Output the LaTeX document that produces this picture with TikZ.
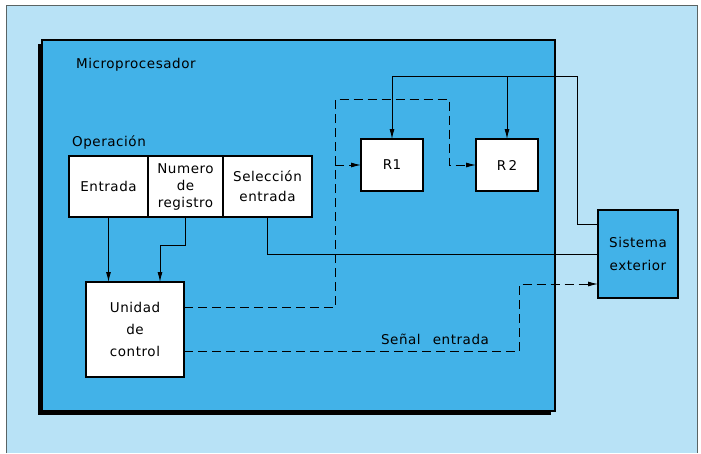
\documentclass[tikz,border=0pt]{standalone}
\usepackage{fontspec}
\setmainfont{DejaVu Sans}[LetterSpace=4]
\usetikzlibrary{arrows.meta, positioning, calc, shadows}
\definecolor{cPanel}{RGB}{184,226,246}
\definecolor{cChip}{RGB}{66,178,232}
\definecolor{cFrame}{RGB}{90,100,100}
\tikzset{
    chip/.style   ={rectangle, draw=black, line width=1.2pt, fill=cChip, inner sep=0pt},
    cell/.style   ={rectangle, draw=black, line width=1.4pt, fill=white, inner sep=0pt, outer sep=0pt, align=center, text centered},
    extbox/.style ={cell, fill=cChip},
    wire/.style   ={line width=0.9pt},
    sigwire/.style={line width=0.9pt, dash pattern=on 9pt off 5pt},
    tip/.style    ={-{Latex[length=10pt,width=5pt]}},
}
\begin{document}
\begin{tikzpicture}[x=1pt, y=-1pt, every node/.style={font=\fontsize{13.5}{17}\selectfont}]
    \useasboundingbox (0,0) rectangle (701,453);
    \fill[white] (0,0) rectangle (701,453);
    \fill[cPanel] (6,5) rectangle (697,453);
    \draw[cFrame, line width=0.6pt] (6,453) -- (6,5) -- (697,5) -- (697,453);
    % microprocesador
    \node[chip, minimum width=513pt, minimum height=371pt,
        drop shadow={shadow xshift=-4pt, shadow yshift=-4pt, fill=black, opacity=1}] (micro) at (298.5,225.5) {};
    \node[anchor=west, inner sep=0pt] (lblMicro) at (76,65) {Microprocesador};
    \node[anchor=west, inner sep=0pt] (lblOp) at (72,143) {Operación};
    % campos de la operacion
    \node[cell, minimum width=79pt, minimum height=61pt] (ent) at (108.5,186.5) {Entrada};
    \node[cell, minimum width=75pt, minimum height=61pt, right=0pt of ent] (num) {Numero\\de\\registro};
    \node[cell, minimum width=89pt, minimum height=61pt, right=0pt of num,
        font=\fontsize{13.5}{20}\selectfont] (sel) {Selección\\entrada};
    \node[cell, minimum width=98pt, minimum height=95pt,
        font=\fontsize{13.5}{22}\selectfont] (uc) at (135,329.5) {Unidad\\de\\control};
    \node[cell, minimum width=62pt, minimum height=52pt] (r1) at (392,165) {R1};
    \node[cell, minimum width=62pt, minimum height=52pt] (r2) at (507,165) {R\,2};
    \node[extbox, minimum width=80pt, minimum height=88pt,
        font=\fontsize{13.5}{23}\selectfont] (sis) at (638,254) {Sistema\\exterior};
    \node (lblSig) at (435,339) {Señal\hspace{0.9em}entrada};
    % conexiones
    \coordinate (busR) at (577,76);
    \draw[wire, tip] ([yshift=-14pt]sis.north west) -| (busR) -| (r1.north);
    \draw[wire, tip] (r2.north |- busR) -- (r2.north);
    \draw[wire] (sel.south) |- (sis.west);
    \draw[wire, tip] (ent.south) -- (ent.south |- uc.north);
    \draw[wire, tip] (num.south) -- ++(0,28) -| ([xshift=25pt]uc.north);
    % senales de control
    \coordinate (dl) at (335,99);
    \coordinate (dr) at (449,99);
    \draw[sigwire, tip] ([yshift=22pt]uc.east) -| (dl) -- (dr) |- (r2.west);
    \draw[sigwire, tip] (dl |- r1.west) -- (r1.west);
    \coordinate (sx) at (519,351);
    \coordinate (sisIn) at ([yshift=-30pt]sis.west);
    \draw[sigwire, tip] ([yshift=-22pt]uc.east) -| (sx |- sisIn) -- (sisIn);
\end{tikzpicture}
\end{document}
